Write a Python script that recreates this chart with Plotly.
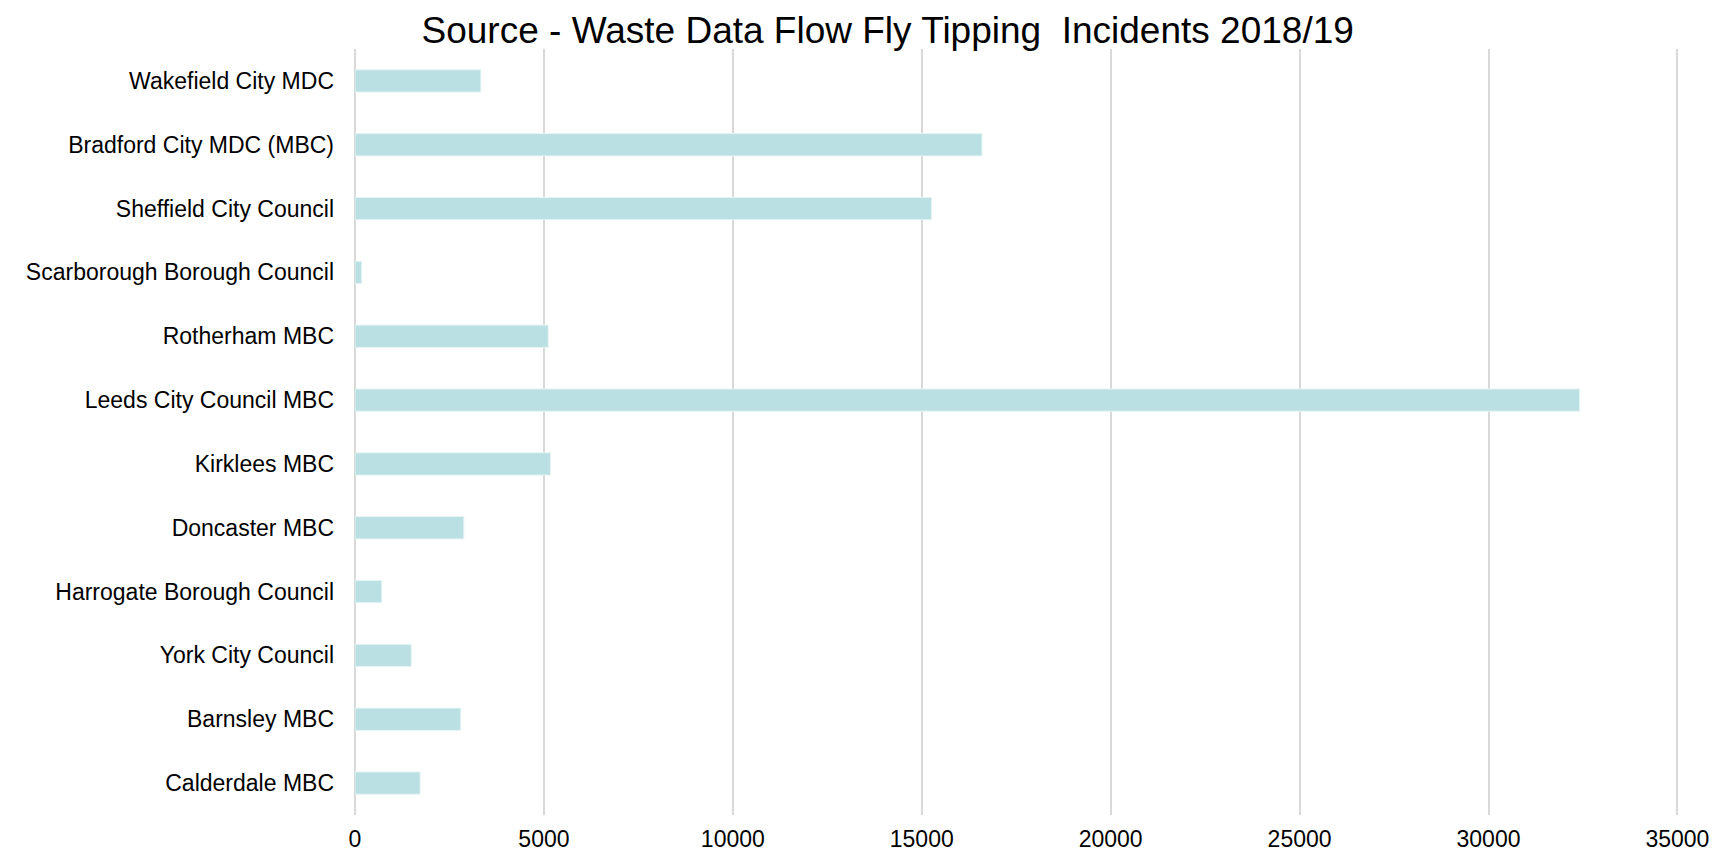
import plotly.graph_objects as go

# Fly tipping incidents by local authority, 2018/19 (top-to-bottom order)
councils = [
    "Wakefield City MDC",
    "Bradford City MDC (MBC)",
    "Sheffield City Council",
    "Scarborough Borough Council",
    "Rotherham MBC",
    "Leeds City Council MBC",
    "Kirklees MBC",
    "Doncaster MBC",
    "Harrogate Borough Council",
    "York City Council",
    "Barnsley MBC",
    "Calderdale MBC",
]
incidents = [3331, 16594, 15259, 177, 5114, 32412, 5173, 2882, 709, 1488, 2799, 1724]

x_ticks = [0, 5000, 10000, 15000, 20000, 25000, 30000, 35000]

fig = go.Figure(
    go.Bar(
        x=incidents,
        y=councils,
        orientation="h",
        marker=dict(color="#BBE0E3", line=dict(color="#E6F4F5", width=1)),
        hoverinfo="x+y",
    )
)

fig.update_layout(
    width=1717,
    height=856,
    paper_bgcolor="white",
    plot_bgcolor="white",
    margin=dict(l=355, r=32, t=49, b=41),
    bargap=0.65,
    showlegend=False,
    font=dict(family="Liberation Sans, Arial, Helvetica, sans-serif", color="#000000", size=23),
    title=dict(
        text="Source - Waste Data Flow Fly Tipping  Incidents 2018/19",
        x=0.517,
        xanchor="center",
        y=0.965,
        yanchor="middle",
        font=dict(size=37, color="#000000"),
    ),
)

fig.update_xaxes(
    range=[0, 35200],
    tickvals=x_ticks,
    ticktext=[str(v) for v in x_ticks],
    showgrid=True,
    gridcolor="#D9D9D9",
    gridwidth=2,
    zeroline=True,
    zerolinecolor="#D9D9D9",
    zerolinewidth=2,
    showline=False,
    ticks="",
    ticklabelstandoff=8,
    tickfont=dict(size=23),
    automargin=False,
)

fig.update_yaxes(
    categoryorder="array",
    categoryarray=councils[::-1],
    showgrid=False,
    zeroline=False,
    showline=False,
    ticks="",
    ticklabelstandoff=20,
    tickfont=dict(size=23),
    automargin=False,
)

fig.write_html("out.html")
